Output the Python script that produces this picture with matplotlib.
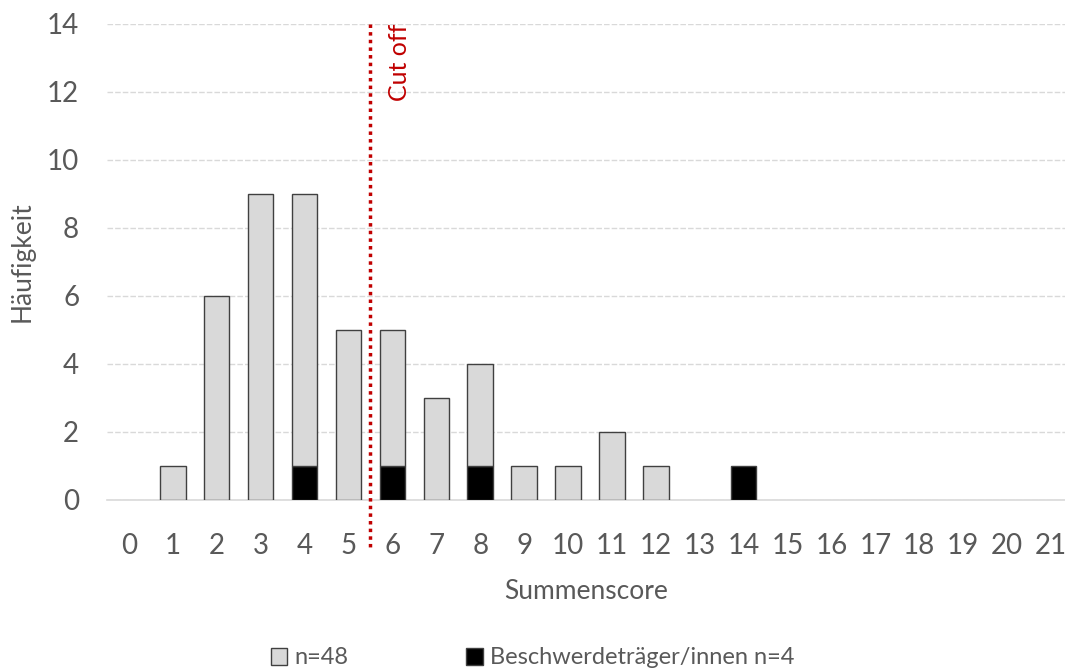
import matplotlib.pyplot as plt
from matplotlib.patches import Patch
import numpy as np

# Summenscore 0..21, Häufigkeit
scores = list(range(0, 22))
beschwerde = [0, 0, 0, 0, 1, 0, 1, 0, 1, 0, 0, 0, 0, 0, 1, 0, 0, 0, 0, 0, 0, 0]
rest = [0, 1, 6, 9, 8, 5, 4, 3, 3, 1, 1, 2, 1, 0, 0, 0, 0, 0, 0, 0, 0, 0]
cutoff = 5.5
label_all = 'n=48'
label_b = 'Beschwerdeträger/innen n=4'

plt.rcParams['font.family'] = ['Lato', 'DejaVu Sans']
grey_txt = '#595959'

fig = plt.figure(figsize=(10.65, 6.71), dpi=100)
ax = fig.add_axes([107 / 1065, 1 - 500 / 671, 958 / 1065, 476 / 671])

x = np.array(scores)
b = np.array(beschwerde)
r = np.array(rest)
w = 0.58
ax.bar(x[b > 0], b[b > 0], width=w, color='black', edgecolor='#404040', linewidth=1, zorder=3)
ax.bar(x[r > 0], r[r > 0], bottom=b[r > 0], width=w, color='#d9d9d9',
       edgecolor='#404040', linewidth=1, zorder=3)

ax.set_xlim(-0.5, 21.32)
ax.set_ylim(0, 14)
ax.set_xticks(scores)
ax.set_yticks(range(0, 15, 2))
ax.tick_params(length=0, labelsize=20, colors=grey_txt)
ax.tick_params(axis='y', pad=20)
ax.tick_params(axis='x', pad=24)
ax.yaxis.grid(True, color='#d9d9d9', linestyle=(0, (4, 1.5)), linewidth=1)
ax.set_axisbelow(True)
for s in ['top', 'right', 'left']:
    ax.spines[s].set_visible(False)
ax.spines['bottom'].set_color('#d9d9d9')
ax.spines['bottom'].set_linewidth(1.2)

ax.plot([cutoff, cutoff], [14, -1.42], color='#c00000', linestyle=(0, (1, 1.2)),
        linewidth=2.5, clip_on=False, zorder=4)
ax.text(cutoff + 0.67, 14, 'Cut off', rotation=90, color='#c00000', fontsize=18,
        ha='center', va='top')

ax.set_xlabel('Summenscore', fontsize=19, color=grey_txt, labelpad=14)
ax.set_ylabel('Häufigkeit', fontsize=19, color=grey_txt, labelpad=9)

handles = [Patch(facecolor='#d9d9d9', edgecolor='#404040', label=label_all),
           Patch(facecolor='black', edgecolor='#404040', label=label_b)]
leg = fig.legend(handles=handles, loc='center', bbox_to_anchor=(0.5, 1 - 658 / 671),
                 ncol=2, frameon=False, fontsize=17, handlelength=0.7, handleheight=0.7,
                 handletextpad=0.3, columnspacing=5.0)
for t in leg.get_texts():
    t.set_color(grey_txt)

fig.savefig('out.png', dpi=100)
